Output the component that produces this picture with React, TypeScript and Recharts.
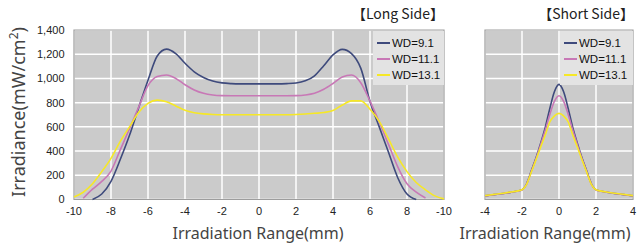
import React from 'react';
import { LineChart, Line, XAxis, YAxis, CartesianGrid, ReferenceArea } from 'recharts';

// ---------- data ----------
const longX = [-10, -9.5, -9, -8.5, -8, -7.5, -7, -6.5, -6, -5.5, -5, -4.5, -4, -3.5, -3, -2.5, -2, -1.5, -1, -0.5, 0, 0.5, 1, 1.5, 2, 2.5, 3, 3.5, 4, 4.5, 5, 5.5, 6, 6.5, 7, 7.5, 8, 8.5, 9, 9.5, 10];
const longWD91 = [null, null, 0, 45, 150, 330, 530, 760, 985, 1185, 1242, 1205, 1125, 1055, 1008, 978, 963, 957, 955, 955, 955, 955, 955, 957, 962, 980, 1022, 1105, 1195, 1240, 1205, 1085, 810, 600, 390, 180, 45, 0, null, null, null];
const longWD111 = [null, 10, 85, 150, 235, 410, 585, 765, 940, 1015, 1028, 1000, 948, 905, 877, 863, 858, 857, 857, 857, 857, 857, 857, 857, 858, 863, 877, 910, 958, 1012, 1028, 965, 812, 640, 455, 270, 130, 60, 12, null, null];
const longWD131 = [20, 60, 130, 230, 340, 480, 600, 720, 794, 821, 808, 773, 737, 717, 707, 702, 700, 700, 700, 700, 700, 700, 700, 700, 702, 706, 712, 718, 735, 780, 815, 815, 745, 645, 500, 350, 230, 140, 80, 30, 5];

const shortX = [-4, -3.5, -3, -2.5, -2, -1.75, -1.5, -1.25, -1, -0.75, -0.5, -0.25, 0, 0.25, 0.5, 0.75, 1, 1.25, 1.5, 1.75, 2, 2.5, 3, 3.5, 4];
const shortWD91 = [30, 40, 50, 62, 80, 130, 235, 340, 460, 590, 750, 890, 951, 890, 750, 590, 460, 340, 235, 130, 80, 62, 50, 40, 30];
const shortWD111 = [30, 40, 50, 62, 79, 128, 230, 335, 450, 570, 700, 810, 857, 810, 700, 570, 450, 335, 230, 128, 79, 62, 50, 40, 30];
const shortWD131 = [32, 42, 52, 64, 80, 125, 225, 325, 430, 530, 640, 690, 711, 690, 640, 530, 430, 325, 225, 125, 80, 64, 52, 42, 32];

const yTicks = [0, 200, 400, 600, 800, 1000, 1200, 1400];
const longTicks = [-10, -8, -6, -4, -2, 0, 2, 4, 6, 8, 10];
const longTickLabels = ['-10', '-8', '-6', '-4', '-2', '0', '2', '4', '6', '8', '-10'];
const shortTicks = [-4, -2, 0, 2, 4];
const shortTickLabels = ['-4', '-2', '0', '2', '4'];

const seriesNames = ['WD=9.1', 'WD=11.1', 'WD=13.1'];
const seriesKeys = ['wd91', 'wd111', 'wd131'];
const colors = ['#3e4a7c', '#c878b6', '#f6e826'];

const longData = longX.map((x, i) => ({ x, wd91: longWD91[i], wd111: longWD111[i], wd131: longWD131[i] }));
const shortData = shortX.map((x, i) => ({ x, wd91: shortWD91[i], wd111: shortWD111[i], wd131: shortWD131[i] }));

const FONT = '"Liberation Sans", Arial, sans-serif';
const tickStyle = { fontSize: 11, fill: '#222', fontFamily: FONT };

function LegendBox({ left, width }: { left: number; width: number }) {
  return (
    <div style={{ position: 'absolute', left, top: 31, width, height: 54, background: '#e3e3e3', fontFamily: FONT, fontSize: 11.5, color: '#111' }}>
      {seriesNames.map((n, i) => (
        <div key={n} style={{ position: 'absolute', left: 0, top: 4 + i * 16, height: 16, width, display: 'flex', alignItems: 'center' }}>
          <div style={{ marginLeft: 4, width: 13, height: 2, background: colors[i] }} />
          <span style={{ marginLeft: 2, lineHeight: '16px' }}>{n}</span>
        </div>
      ))}
    </div>
  );
}

export default function App() {
  const lines = seriesKeys.map((k, i) => (
    <Line key={k} type="monotone" dataKey={k} stroke={colors[i]} strokeWidth={1.6} dot={false} isAnimationActive={false} connectNulls={false} />
  ));
  return (
    <div style={{ position: 'absolute', left: 0, top: 0, width: 637, height: 247, background: '#fff', overflow: 'hidden' }}>
      <div style={{ position: 'absolute', left: 0, top: 0 }}>
        <LineChart width={470} height={247} data={longData} margin={{ top: 30, right: 26, bottom: 17.5, left: 34 }}>
          <CartesianGrid fill="#cbcbcb" stroke="#ffffff" strokeWidth={1.5} />
          <XAxis type="number" dataKey="x" domain={[-10, 10]} ticks={longTicks} interval={0}
            tickFormatter={(v: number) => longTickLabels[longTicks.indexOf(v)]}
            height={30} tickLine={false} axisLine={false} tick={tickStyle} />
          <YAxis type="number" domain={[0, 1400]} ticks={yTicks} interval={0} width={40}
            tickFormatter={(v: number) => v.toLocaleString('en-US')}
            tickLine={false} axisLine={false} tick={tickStyle} tickMargin={3.5} />
          <ReferenceArea x1={-10} x2={10} y1={0} y2={1400} fill="none" stroke="#9d9d9d" strokeWidth={1.2} />
          {lines}
        </LineChart>
      </div>
      <div style={{ position: 'absolute', left: 450, top: 0 }}>
        <LineChart width={187} height={247} data={shortData} margin={{ top: 30, right: 4, bottom: 17.5, left: 35 }}>
          <CartesianGrid fill="#cbcbcb" stroke="#ffffff" strokeWidth={1.5} />
          <XAxis type="number" dataKey="x" domain={[-4, 4]} ticks={shortTicks} interval={0}
            tickFormatter={(v: number) => shortTickLabels[shortTicks.indexOf(v)]}
            height={30} tickLine={false} axisLine={false} tick={tickStyle} />
          <YAxis type="number" domain={[0, 1400]} ticks={yTicks} hide width={0} />
          <ReferenceArea x1={-4} x2={4} y1={0} y2={1400} fill="none" stroke="#9d9d9d" strokeWidth={1.2} />
          {lines}
        </LineChart>
      </div>
      <LegendBox left={373} width={71} />
      <LegendBox left={560} width={73} />
      <svg width={637} height={247} style={{ position: 'absolute', left: 0, top: 0, pointerEvents: 'none' }}>
        <text x={444} y={19} textAnchor="end" fontFamily='"Noto Sans CJK JP", sans-serif' fontSize={14} fill="#222">【Long Side】</text>
        <text x={634} y={19} textAnchor="end" fontFamily='"Noto Sans CJK JP", sans-serif' fontSize={14} fill="#222">【Short Side】</text>
        <text x={258} y={239} textAnchor="middle" fontFamily='"Noto Sans", sans-serif' fontSize={16} fill="#444">Irradiation Range(mm)</text>
        <text x={545} y={239} textAnchor="middle" fontFamily='"Noto Sans", sans-serif' fontSize={16} fill="#444">Irradiation Range(mm)</text>
        <text transform="translate(25,112) rotate(-90)" textAnchor="middle" fontFamily='"Noto Sans", sans-serif' fontSize={18} fill="#444">
          Irradiance(mW/cm<tspan fontSize={12} dy={-7}>2</tspan><tspan dy={7}>)</tspan>
        </text>
      </svg>
    </div>
  );
}
